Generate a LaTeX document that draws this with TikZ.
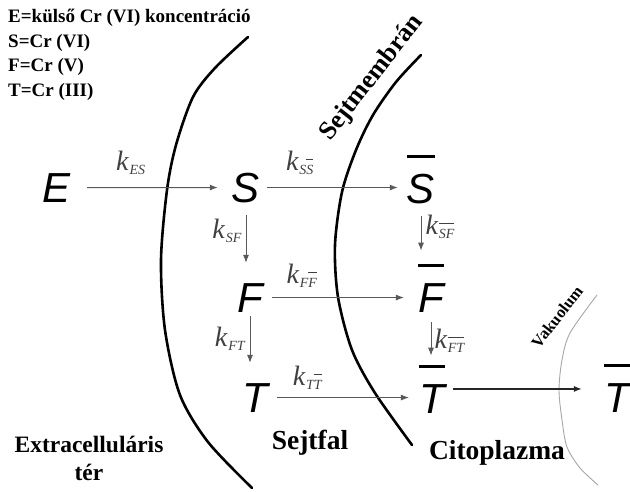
\documentclass[tikz,border=0pt]{standalone}
\usepackage{fontspec}
\setmainfont{Liberation Serif}
\newfontfamily\arialfont{Liberation Sans}
\usetikzlibrary{arrows.meta}

% bar over a letter: thickness, gap, text
\newcommand{\ovl}[3]{\setbox0=\hbox{#3}\vbox{\hbox{\vrule height #1 depth 0pt width \wd0}\kern#2\box0}}
% rate constant k with subscript
\newcommand{\rate}[1]{\textit{k}\kern0.5pt\raisebox{-4pt}{\fontsize{14}{14}\selectfont\textit{#1}}}

\begin{document}
\begin{tikzpicture}[
  x=1pt, y=-1pt,
  >={Latex[length=8pt,width=6pt]},
  spec/.style={
    font=\arialfont\itshape\fontsize{42}{42}\selectfont,
    anchor=base, inner sep=0pt
  },
  rate/.style={font=\fontsize{28}{28}\selectfont, text=black!75, inner sep=1pt},
  zone/.style={font=\bfseries\fontsize{27.5}{28}\selectfont, align=center},
  wall/.style={line width=2.6pt, line cap=round},
  vac/.style={black!35, line width=0.9pt},
  arr/.style={->, black!65, line width=1pt},
  darr/.style={->, black!85, line width=1.5pt}
]
\useasboundingbox (0,0) rectangle (630,491);

%% ── Legend ──────────────────────────────────────────────────────────
\node[anchor=north west, align=left, inner sep=0pt,
      font=\bfseries\fontsize{19}{24.5}\selectfont] (legend) at (8,9) {
  E=külső Cr (VI) koncentráció\\
  S=Cr (VI)\\
  F=Cr (V)\\
  T=Cr (III)
};

%% ── Walls ───────────────────────────────────────────────────────────
\draw[wall] plot[smooth] coordinates {(248,37) (215,68) (193,97) (176,145)
  (167,190) (161,260) (165,330) (180,395) (208,442) (252,488)};
\draw[wall] plot[smooth] coordinates {(421,55) (396,82) (373,115) (356,150)
  (342,192) (335,245) (338,297) (352,350) (375,393) (412,445)};
\draw[vac] plot[smooth] coordinates {(597,295) (570,333) (562,360) (559,390)
  (562,420) (567,447) (580,468) (598,485)};

\node[rotate=52, font=\bfseries\fontsize{26}{26}\selectfont] (membr) at (372,78) {Sejtmembrán};
\node[rotate=52, font=\bfseries\fontsize{16.5}{16.5}\selectfont] (vakuol) at (557,317) {Vakuolum};

%% ── Species ─────────────────────────────────────────────────────────
\node[spec] (E)  at (57,202)  {E};
\node[spec] (S)  at (246,202) {S};
\node[spec] (Sb) at (421,203) {\ovl{2.6pt}{3.5pt}{S}};
\node[spec] (F)  at (250,312) {F};
\node[spec] (Fb) at (431,312) {\ovl{2.6pt}{3.5pt}{F}};
\node[spec] (T)  at (255,412) {T};
\node[spec] (Tb) at (432,413) {\ovl{2.6pt}{3.5pt}{T}};
\node[spec] (Tv) at (617,412) {\ovl{2.6pt}{3.5pt}{T}};

%% ── Transfers ───────────────────────────────────────────────────────
\draw[arr, shorten <=16pt, shorten >=14pt] (E) --
  node[rate, above=11pt, pos=0.37] (kES) {\rate{ES}} (S);
\draw[arr, shorten <=7pt, shorten >=9pt] (S) --
  node[rate, above=11pt, pos=0.27] (kSSb) {\rate{S\ovl{0.7pt}{0.8pt}{S}}} (S -| Sb.west);
\draw[arr, shorten <=9pt, shorten >=14pt] (F) --
  node[rate, above=9pt, pos=0.25] (kFFb) {\rate{F\ovl{0.7pt}{0.8pt}{F}}} (F -| Fb.west);
\draw[arr, shorten <=9pt, shorten >=10pt] (T) --
  node[rate, above=7pt, pos=0.26] (kTTb) {\rate{T\ovl{0.7pt}{0.8pt}{T}}} (T -| Tb.west);
\draw[darr, shorten <=8pt, shorten >=22pt] (Tb) -- (Tb -| Tv.west);

%% ── Reactions ───────────────────────────────────────────────────────
\draw[arr, shorten <=12pt, shorten >=20pt] (S.south) --
  node[rate, left=3pt, pos=0.35] (kSF) {\rate{SF}} (S.south |- F.north);
\draw[arr, shorten <=4pt, shorten >=20pt] (F.south) --
  node[rate, left=3pt, pos=0.37] (kFT) {\rate{FT}} (F.south |- T.north);
\draw[arr, shorten <=12pt, shorten >=13pt] (Sb.south) --
  node[rate, right=3pt, pos=0.38] (kSbFb) {\rate{\ovl{0.7pt}{0.8pt}{S}\ovl{0.7pt}{0.8pt}{F}}} (Sb.south |- Fb.north);
\draw[arr, shorten <=10pt, shorten >=9pt] (Fb.south) --
  node[rate, right=2pt, pos=0.55] (kFbTb) {\rate{\ovl{0.7pt}{0.8pt}{F}\ovl{0.7pt}{0.8pt}{T}}} (Fb.south |- Tb.north);

%% ── Compartments ────────────────────────────────────────────────────
\node[zone, font=\bfseries\fontsize{23.5}{28}\selectfont] (extra) at (89,458) {Extracelluláris\\tér};
\node[zone] (fal) at (310,443) {Sejtfal};
\node[zone] (cito) at (497,453) {Citoplazma};

\end{tikzpicture}
\end{document}
